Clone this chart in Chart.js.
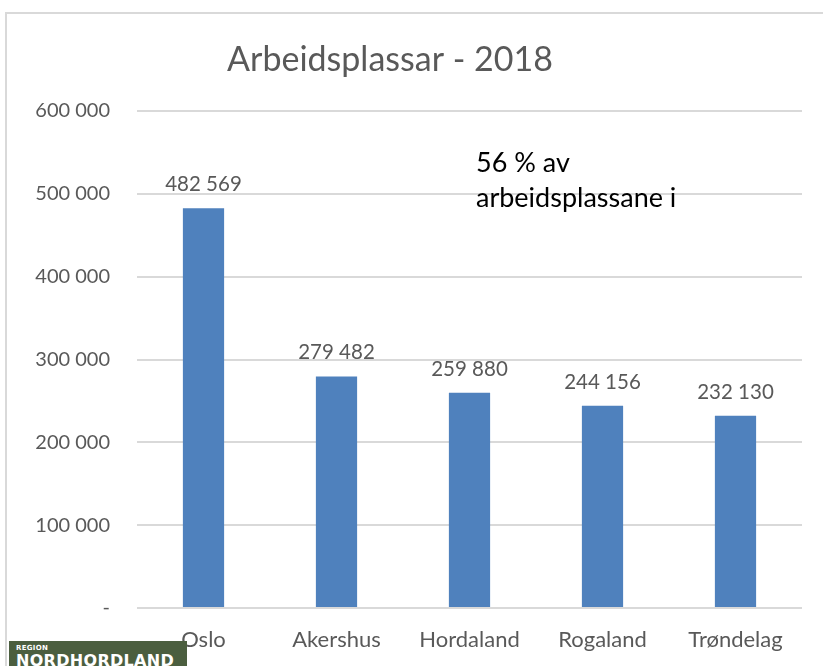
<!DOCTYPE html>
<html>
<head>
<meta charset="utf-8">
<script src="https://cdn.jsdelivr.net/npm/chart.js@4.4.0/dist/chart.umd.min.js"></script>
<style>
  html, body { margin: 0; padding: 0; background: #fff; }
  body { width: 823px; height: 666px; position: relative; overflow: hidden; font-family: Lato, sans-serif; }
  #frame { position: absolute; left: 5px; top: 12px; width: 840px; height: 700px; border: 2px solid #d9d9d9; box-sizing: border-box; }
  #wrap { position: absolute; left: 0; top: 0; width: 823px; height: 666px; }
  #logo { position: absolute; left: 9px; top: 641px; width: 178px; height: 30px; background: #4b5e3f; color: #fff; }
  #logo .s { position: absolute; left: 7px; top: 3px; font: bold 7px "DejaVu Sans", sans-serif; letter-spacing: 0.3px; }
  #logo .b { position: absolute; left: 7px; top: 10px; font: bold 16px "DejaVu Sans", sans-serif; letter-spacing: 0.3px; }
</style>
</head>
<body>
<div id="frame"></div>
<div id="wrap"><canvas id="chart" width="823" height="666"></canvas></div>
<div id="logo"><span class="s">REGION</span><span class="b">NORDHORDLAND</span></div>
<script>
document.addEventListener("DOMContentLoaded", function () {
    // data
    const fylke = ["Oslo", "Akershus", "Hordaland", "Rogaland", "Trøndelag"];
    const arbeidsplassar = [482569, 279482, 259880, 244156, 232130];
    const yTicks = [0, 100000, 200000, 300000, 400000, 500000, 600000];
    const tittel = "Arbeidsplassar - 2018";
    const noteLines = ["56 % av", "arbeidsplassane i"];

    const grey = "#595959";
    const fontName = "Lato, 'Liberation Sans', sans-serif";
    const fmt = (v) => (v === 0 ? "-" : v.toString().replace(/\B(?=(\d{3})+(?!\d))/g, " "));

    // title, numbers above the bars, and the note text
    const labelsPlugin = {
        id: "barLabels",
        afterDatasetsDraw(chart) {
            const c = chart.ctx;
            const meta = chart.getDatasetMeta(0);
            c.save();
            c.font = "34px " + fontName;
            c.fillStyle = grey;
            c.textAlign = "center";
            c.textBaseline = "middle";
            c.fillText(tittel, 390, 60);

            c.font = "20.5px " + fontName;
            c.textBaseline = "alphabetic";
            meta.data.forEach((bar, i) => {
                c.fillText(fmt(arbeidsplassar[i]), bar.x, bar.y - 17);
            });
            c.font = "27px " + fontName;
            c.fillStyle = "#000";
            c.textAlign = "left";
            noteLines.forEach((t, i) => c.fillText(t, 476, 172 + i * 35));
            c.restore();
        }
    };

    let ctx = document.getElementById("chart").getContext("2d");
    new Chart(ctx, {
        type: "bar",
        data: {
            labels: fylke,
            datasets: [{ data: arbeidsplassar, backgroundColor: "#4f81bd", barPercentage: 0.31, categoryPercentage: 1 }]
        },
        options: {
            responsive: false,
            animation: false,
            layout: { padding: { top: 111, right: 21, bottom: 0, left: 0 } },
            plugins: {
                legend: { display: false },
                tooltip: { enabled: false },
                title: { display: false }
            },
            scales: {
                x: {
                    grid: { display: false, drawTicks: false },
                    border: { display: false },
                    ticks: { color: grey, font: { family: fontName, size: 22 }, padding: 19 },
                    afterFit: (s) => { s.height = 58; }
                },
                y: {
                    min: 0,
                    max: 600000,
                    afterBuildTicks: (s) => { s.ticks = yTicks.map((v) => ({ value: v })); },
                    grid: { color: "#d9d9d9", lineWidth: 2, drawTicks: false },
                    border: { display: false },
                    ticks: { color: grey, font: { family: fontName, size: 20 }, padding: 27, callback: (v) => fmt(v) },
                    afterFit: (s) => { s.width = 137; }
                }
            }
        },
        plugins: [labelsPlugin]
    });
});
</script>
</body>
</html>
